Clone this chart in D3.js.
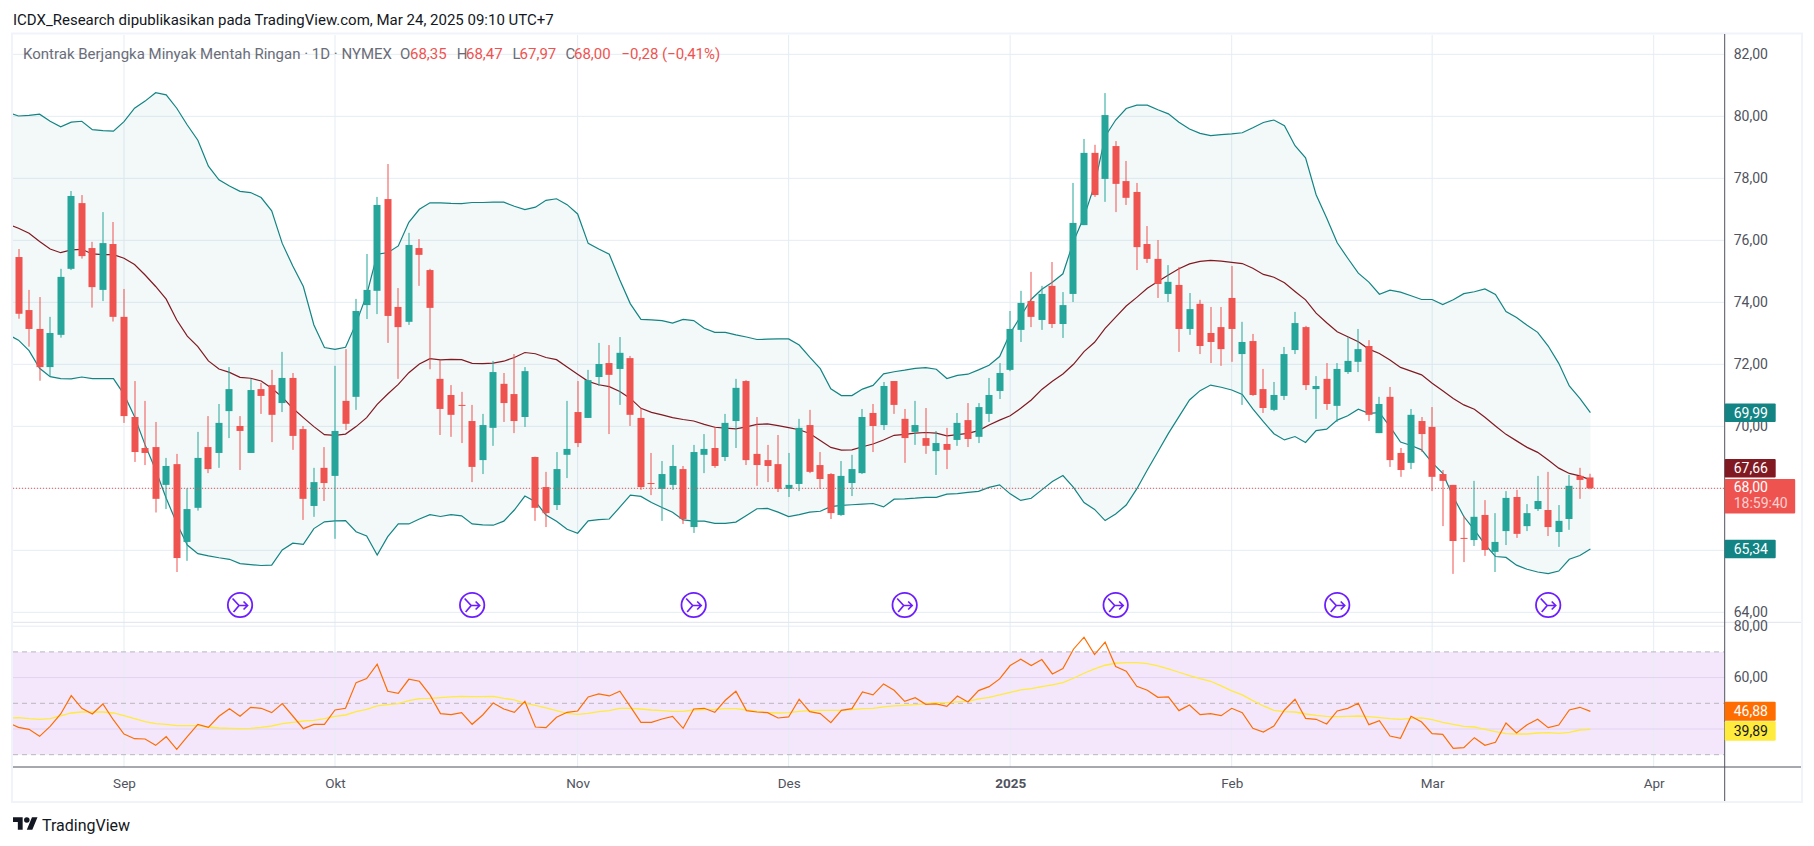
<!DOCTYPE html>
<html><head><meta charset="utf-8">
<script src="https://cdn.jsdelivr.net/npm/d3@7"></script>
<style>html,body{margin:0;padding:0;background:#fff;overflow:hidden}svg{display:block}text{font-family:Roboto,sans-serif}</style>
</head><body><div id="chart"></div>
<script>
const opens=[75.46,73.75,73.14,71.91,72.95,75.08,77.20,75.75,74.40,75.88,73.53,70.30,69.30,69.33,68.11,68.78,66.27,67.37,69.33,69.14,70.49,70.01,69.14,71.20,71.33,70.75,71.56,69.91,67.43,68.66,68.40,70.82,70.95,73.91,74.37,77.33,73.85,73.37,75.75,75.04,71.53,71.01,70.69,70.17,68.91,69.95,71.37,71.04,70.30,69.01,68.04,67.46,69.08,70.46,70.27,71.59,72.04,71.85,72.20,70.27,68.17,67.98,68.11,68.62,66.75,69.08,69.30,69.01,70.17,71.46,69.11,68.91,68.78,67.98,68.14,70.04,68.75,68.46,67.14,68.17,68.49,70.43,70.04,71.46,70.24,69.82,69.62,69.20,69.43,69.56,70.20,69.66,70.40,71.14,71.82,73.11,74.04,73.43,74.53,73.30,74.27,76.49,78.82,77.98,79.04,77.91,77.56,75.88,75.40,74.27,74.56,73.14,73.95,73.01,73.20,74.14,72.33,72.75,71.20,70.53,70.98,72.46,73.20,71.20,71.53,70.66,71.75,72.08,72.59,69.78,70.95,69.14,68.82,70.17,69.98,68.46,68.11,66.40,66.33,67.14,65.95,66.62,67.72,66.78,67.33,67.30,66.59,67.01,68.40,68.35];
const highs=[75.72,74.40,74.17,73.53,75.08,77.59,77.46,75.95,76.91,76.59,74.43,71.46,70.82,70.14,68.98,69.11,68.00,69.82,70.33,70.72,71.91,70.33,71.53,71.40,71.82,72.40,71.72,70.01,68.66,69.33,71.95,72.49,74.11,75.56,77.40,78.46,74.46,76.24,76.04,75.08,72.14,71.33,71.11,70.69,70.40,72.11,71.72,72.33,71.91,69.02,68.53,69.17,70.82,71.46,71.82,72.69,72.62,72.88,72.27,70.58,69.14,68.88,69.40,68.72,69.40,69.75,69.99,70.40,71.53,71.49,70.30,69.40,69.72,69.14,70.24,70.53,69.17,68.49,68.88,69.08,70.56,70.72,71.43,71.46,70.56,70.82,70.59,69.85,69.95,70.43,70.75,70.75,71.56,72.04,73.72,74.37,74.98,74.53,75.30,74.33,77.85,79.27,79.08,80.75,79.20,78.56,77.85,76.46,76.01,75.20,75.14,74.30,74.08,73.85,73.85,75.17,73.37,72.98,71.85,71.43,72.56,73.69,73.24,71.62,72.04,72.04,72.88,73.14,72.78,70.95,71.27,69.30,70.56,70.30,70.62,68.59,68.11,67.11,68.24,67.62,67.20,67.91,67.95,67.49,68.40,68.53,67.46,68.43,68.66,68.47];
const lows=[73.47,72.57,71.47,71.60,72.86,75.04,75.41,73.83,74.04,73.38,70.11,68.85,68.75,67.22,67.33,65.30,65.66,67.28,68.49,68.66,69.62,68.59,69.14,70.40,69.49,70.46,69.24,66.98,67.08,67.59,66.37,69.88,70.53,73.46,73.62,72.69,71.53,73.27,74.53,71.84,69.72,69.66,69.46,68.20,68.46,69.37,70.14,69.78,69.98,66.95,66.75,67.30,68.33,69.33,70.27,71.30,69.75,70.69,70.01,67.95,67.78,66.95,67.95,66.85,66.56,68.49,68.66,68.88,69.30,68.75,68.08,68.20,67.88,67.72,67.91,68.49,67.98,67.01,67.11,67.75,68.46,69.17,69.88,70.40,68.82,69.40,69.11,68.43,68.62,69.37,69.33,69.46,70.14,70.88,71.78,72.72,73.20,73.11,73.17,72.85,74.01,76.49,77.40,77.24,76.91,77.14,75.04,75.27,74.14,74.01,72.40,72.95,72.33,72.04,71.95,72.08,70.69,70.98,70.43,70.49,70.85,72.33,71.17,70.24,70.53,70.14,71.69,71.75,70.17,69.78,68.69,68.37,68.62,69.17,67.91,66.78,65.24,65.62,66.14,65.82,65.30,66.17,66.40,66.62,67.27,66.46,66.11,66.66,67.66,67.97];
const closes=[73.63,73.14,71.91,73.01,74.82,77.43,75.49,74.49,75.91,73.53,70.33,69.17,69.14,67.66,68.72,65.75,67.33,68.98,68.62,70.11,71.20,69.85,71.17,70.98,70.37,71.56,69.69,67.66,68.20,68.17,69.85,70.08,73.72,74.40,77.14,73.56,73.20,75.85,75.53,73.82,70.56,70.37,70.66,68.69,70.04,71.75,70.75,70.17,71.78,67.37,67.20,68.62,69.27,69.46,71.49,72.01,71.66,72.37,70.37,68.04,68.14,68.46,68.72,67.01,69.17,69.27,68.72,70.11,71.24,68.91,68.75,68.72,67.98,68.11,69.95,68.53,68.30,67.20,68.40,68.62,70.30,70.01,71.30,70.69,69.62,70.04,69.37,69.46,69.24,70.11,69.59,70.62,71.01,71.72,73.14,73.98,73.53,74.27,73.30,73.91,76.56,78.82,77.46,80.04,77.82,77.37,75.78,75.40,74.59,74.66,73.14,73.78,72.59,72.72,72.49,73.14,72.72,71.01,70.59,71.01,72.33,73.33,71.33,71.30,70.72,71.85,72.11,72.49,70.37,70.72,68.91,68.59,70.37,69.75,68.37,68.24,66.30,66.37,67.08,66.01,66.27,67.69,66.53,67.20,67.59,66.75,66.95,68.08,68.27,68.00];
// Indicator series start one bar before the first candle (clipped at the pane edge)
const bbUpper=[80.12,80.01,80.03,80.07,79.84,79.66,79.81,79.84,79.57,79.54,79.52,79.83,80.26,80.49,80.76,80.69,80.26,79.72,79.23,78.39,77.95,77.75,77.58,77.54,77.38,76.95,75.90,75.17,74.51,73.27,72.54,72.48,72.55,73.32,74.24,75.55,75.60,75.82,76.58,77.00,77.21,77.21,77.19,77.18,77.22,77.22,77.23,77.23,77.10,76.99,77.07,77.29,77.34,77.15,76.85,75.90,75.72,75.55,74.72,73.95,73.45,73.43,73.41,73.33,73.45,73.41,73.16,73.03,73.03,72.95,72.88,72.80,72.81,72.82,72.82,72.62,72.23,71.86,71.21,70.99,70.99,71.20,71.32,71.69,71.76,71.81,71.87,71.89,71.84,71.54,71.64,71.68,71.82,71.97,72.25,73.00,73.55,74.10,74.42,74.65,74.92,75.96,76.76,77.78,79.35,79.88,80.25,80.36,80.36,80.21,80.08,79.81,79.59,79.45,79.38,79.41,79.43,79.47,79.63,79.80,79.88,79.70,79.05,78.66,77.47,76.72,75.92,75.42,74.94,74.65,74.26,74.39,74.33,74.21,74.09,74.09,73.93,74.08,74.28,74.34,74.43,74.25,73.70,73.51,73.26,73.03,72.59,72.03,71.30,70.90,70.44];
const bbMiddle=[76.52,76.39,76.23,75.96,75.72,75.60,75.69,75.71,75.56,75.54,75.54,75.42,75.22,74.88,74.51,74.10,73.43,72.91,72.57,72.11,71.85,71.74,71.58,71.55,71.46,71.23,70.94,70.58,70.28,69.99,69.73,69.71,69.75,69.99,70.28,70.71,71.04,71.35,71.73,72.01,72.18,72.14,72.16,72.15,72.03,72.02,72.04,72.10,72.22,72.38,72.34,72.22,72.15,71.91,71.68,71.45,71.34,71.28,71.12,70.90,70.58,70.45,70.37,70.28,70.22,70.17,70.06,69.97,69.94,69.92,69.98,70.06,70.08,70.02,69.96,69.89,69.77,69.54,69.32,69.23,69.24,69.34,69.43,69.56,69.71,69.74,69.78,69.80,69.78,69.69,69.73,69.77,69.86,70.04,70.20,70.34,70.58,70.85,71.19,71.45,71.69,72.00,72.41,72.71,73.16,73.52,73.88,74.16,74.45,74.67,74.88,75.08,75.24,75.32,75.35,75.33,75.29,75.25,75.10,74.90,74.81,74.63,74.35,74.08,73.65,73.34,73.05,72.89,72.73,72.49,72.35,72.14,71.90,71.78,71.66,71.39,71.15,70.90,70.69,70.55,70.29,70.01,69.74,69.53,69.32,69.16,68.91,68.65,68.48,68.40,68.27];
const bbLower=[72.96,72.78,72.44,71.87,71.60,71.54,71.53,71.59,71.54,71.54,71.54,71.03,70.31,69.40,68.59,67.68,66.87,66.17,65.89,65.82,65.76,65.71,65.57,65.54,65.51,65.52,66.01,66.23,66.19,66.70,66.92,66.95,66.96,66.60,66.46,65.85,66.44,66.85,66.85,67.01,67.15,67.09,67.15,67.11,66.85,66.82,66.81,66.94,67.30,67.75,67.57,67.14,66.94,66.68,66.55,66.95,66.99,67.01,67.39,67.78,67.74,67.54,67.38,67.23,66.98,66.94,66.94,66.87,66.87,66.91,67.12,67.34,67.35,67.23,67.09,67.15,67.23,67.26,67.41,67.45,67.47,67.49,67.51,67.40,67.65,67.66,67.68,67.71,67.71,67.81,67.83,67.87,67.90,68.03,68.11,67.82,67.61,67.68,67.95,68.22,68.41,68.03,67.54,67.32,66.96,67.17,67.46,67.98,68.59,69.18,69.77,70.31,70.85,71.15,71.33,71.26,71.17,71.03,70.56,70.15,69.76,69.56,69.67,69.48,69.86,69.91,70.20,70.34,70.55,70.42,70.44,69.99,69.49,69.38,69.24,68.83,68.48,67.73,67.09,66.66,66.19,65.80,65.77,65.52,65.39,65.30,65.25,65.33,65.71,65.83,66.04];
const rsiValues=[42.47,40.65,39.87,37.14,41.04,45.84,52.99,48.05,45.84,49.74,43.51,38.05,36.23,36.10,33.64,37.01,32.08,37.01,41.82,40.65,44.94,47.92,44.94,48.44,48.05,46.36,49.87,45.06,40.13,41.82,41.82,47.40,48.05,58.05,59.61,65.19,54.68,53.90,59.35,58.57,53.25,45.97,45.58,46.36,41.82,45.45,50.13,47.79,46.49,50.78,40.78,40.52,44.55,46.49,47.01,52.47,53.64,52.86,54.68,48.70,42.60,42.60,43.90,44.94,40.26,47.79,48.05,46.49,51.17,54.68,47.14,46.62,46.36,44.29,44.68,51.56,46.75,45.97,42.47,47.27,47.92,54.42,53.25,57.53,55.06,50.78,52.21,49.61,49.74,48.83,52.86,50.52,54.94,56.49,59.48,64.68,67.14,64.68,67.01,61.43,63.51,71.04,75.71,68.96,73.77,64.29,62.47,56.62,55.06,52.34,52.47,47.14,49.35,45.58,45.97,45.19,48.05,46.36,40.26,38.83,41.17,47.40,51.56,44.16,43.77,41.95,47.01,48.05,50.00,41.69,43.25,37.27,36.36,44.94,42.73,38.18,37.92,32.47,32.73,36.62,33.64,34.81,42.34,38.44,41.69,43.77,40.52,41.56,47.40,48.44,46.88];
const rsiMA=[44.29,44.42,44.03,43.77,44.03,45.06,46.23,46.62,46.62,46.62,46.23,45.19,44.03,42.86,42.08,41.82,41.30,41.30,41.30,40.78,40.39,40.26,40.13,40.26,40.65,41.17,42.08,42.60,43.12,43.38,44.03,44.94,45.45,46.75,47.66,48.96,49.48,49.87,51.04,51.82,51.95,52.21,52.47,52.73,52.60,52.60,52.73,51.95,51.30,50.00,49.22,48.18,47.14,46.10,45.71,46.10,46.75,47.14,48.05,48.05,47.79,47.40,47.14,46.88,46.88,47.40,47.53,47.66,47.92,47.92,47.40,46.88,46.49,46.23,46.36,46.88,47.14,47.27,47.27,47.27,47.53,47.92,48.05,48.57,48.96,49.22,49.48,49.87,50.26,50.26,50.52,50.78,51.69,52.34,53.25,54.29,55.19,55.71,56.49,57.14,58.05,59.74,61.69,63.38,64.81,65.58,65.84,65.84,65.45,64.55,63.38,62.08,60.78,59.61,58.57,56.75,54.81,53.25,51.04,48.96,47.27,46.75,46.62,45.84,45.32,44.94,44.81,44.94,45.06,44.81,44.42,44.03,43.77,44.16,44.29,43.64,42.60,41.82,41.04,40.78,39.87,38.96,38.18,38.05,38.05,38.44,38.57,38.31,38.70,39.61,39.89];
const priceTicks=[64,66,68,70,72,74,76,78,80,82];
const rsiTicks=[40,60,80];
const rsiBands=[30,50,70];
const monthIndex=[10,30,53,73,94,115,134,155];
const monthLabels=["Sep","Okt","Nov","Des","2025","Feb","Mar","Apr"];
const eventIndex=[21,43,64,84,104,125,145];
const legendParts=[["Kontrak Berjangka Minyak Mentah Ringan · 1D · NYMEX",23,"#6a6d78"],["O",400,"#6a6d78"],["68,35",410,"#ef5350"],["H",456.7,"#6a6d78"],["68,47",466,"#ef5350"],["L",512.5,"#6a6d78"],["67,97",519.6,"#ef5350"],["C",565.4,"#6a6d78"],["68,00",574,"#ef5350"],["−0,28 (−0,41%)",621.5,"#ef5350"]];

const W=1814,H=846,L=13,PR=1724.7,FR=1801,T=35,SEP=622.3,AX=767,FB=801;
const svg=d3.select("#chart").append("svg").attr("width",W).attr("height",H);
const comma=d=>d3.format(".2f")(d).replace(".",",");
const x=d3.scaleLinear().domain([0,149]).range([18.5,1590.4]);
const y=d3.scaleLinear().domain([64,82]).range([612.3,54.3]);
const r=d3.scaleLinear().domain([30,70]).range([754.7,651.9]);
const ix=i=>x(i-1); // indicator series index -> x

const defs=svg.append("defs");
defs.append("clipPath").attr("id","cp").append("rect").attr("x",L).attr("y",T).attr("width",PR-L).attr("height",SEP-T);
defs.append("clipPath").attr("id","cr").append("rect").attr("x",L).attr("y",SEP).attr("width",PR-L).attr("height",AX-SEP);

// frame
svg.append("rect").attr("x",L-1).attr("y",T-1.5).attr("width",FR-L+2).attr("height",FB-T+2.5).attr("fill","#fff").attr("stroke","#f0f3fa").attr("stroke-width",2);
// title
svg.append("text").attr("x",13).attr("y",20).attr("dy","0.35em").attr("font-size",15).attr("fill","#131722").text("ICDX_Research dipublikasikan pada TradingView.com, Mar 24, 2025 09:10 UTC+7");

// price pane
const pane=svg.append("g").attr("clip-path","url(#cp)");
const rp=svg.append("g").attr("clip-path","url(#cr)");
// RSI background
rp.append("rect").attr("x",L).attr("width",PR-L).attr("y",r(70)).attr("height",r(30)-r(70)).attr("fill","#f4e7fc");
// grid
pane.selectAll(".gh").data(priceTicks).join("line").attr("x1",L).attr("x2",PR).attr("y1",d=>y(d)).attr("y2",d=>y(d)).attr("stroke","#e4edf3").attr("stroke-width",1);
[pane,rp].forEach(g=>g.selectAll(".gv").data(monthIndex).join("line").attr("x1",d=>x(d)).attr("x2",d=>x(d)).attr("y1",T).attr("y2",AX).attr("stroke","#e4edf3").attr("stroke-width",1).attr("opacity",0.95));
rp.selectAll(".gr").data(rsiTicks).join("line").attr("x1",L).attr("x2",PR).attr("y1",d=>r(d)).attr("y2",d=>r(d)).attr("stroke",d=>d==80?"#e4edf3":"#e2d3ee").attr("stroke-width",1);
rp.selectAll(".gb").data(rsiBands).join("line").attr("x1",L).attr("x2",PR).attr("y1",d=>r(d)).attr("y2",d=>r(d)).attr("stroke","#b9b4bf").attr("stroke-width",1).attr("stroke-dasharray","5,4");
// Bollinger
const area=d3.area().x((d,i)=>ix(i)).y0((d,i)=>y(bbLower[i])).y1(d=>y(d));
pane.append("path").attr("d",area(bbUpper)).attr("fill","#138484").attr("opacity",0.05);
const line=d3.line().x((d,i)=>ix(i)).y(d=>y(d));
pane.append("path").attr("d",line(bbUpper)).attr("fill","none").attr("stroke","#138484").attr("stroke-width",1.2);
pane.append("path").attr("d",line(bbLower)).attr("fill","none").attr("stroke","#138484").attr("stroke-width",1.2);
pane.append("path").attr("d",line(bbMiddle)).attr("fill","none").attr("stroke","#801922").attr("stroke-width",1.2);
// candles
const up="#26a69a",dn="#ef5350",col=i=>closes[i]>=opens[i]?up:dn;
const idx=d3.range(opens.length);
pane.selectAll(".w").data(idx).join("rect").attr("x",i=>Math.round(x(i))-0.5).attr("width",1).attr("y",i=>y(highs[i])).attr("height",i=>y(lows[i])-y(highs[i])).attr("fill",col);
pane.selectAll(".b").data(idx).join("rect").attr("x",i=>Math.round(x(i))-3.5).attr("width",7).attr("y",i=>y(Math.max(opens[i],closes[i]))).attr("height",i=>Math.max(1,Math.abs(y(opens[i])-y(closes[i])))).attr("fill",col);
// last price line
pane.append("line").attr("x1",L).attr("x2",PR).attr("y1",y(closes[149])).attr("y2",y(closes[149])).attr("stroke",dn).attr("stroke-width",1).attr("stroke-dasharray","1,2");
// events
const ev=pane.selectAll(".e").data(eventIndex).join("g").attr("transform",d=>`translate(${x(d)},605)`);
ev.append("circle").attr("r",12.2).attr("fill","#fff").attr("stroke","#6d1eff").attr("stroke-width",1.8);
ev.append("path").attr("d","M-7.5,-6.5 L-1,0.5 L-6.5,7 M-1,0.5 H7.5 M3.5,-3.5 L7.5,0.5 L3.5,4.5").attr("fill","none").attr("stroke","#6d1eff").attr("stroke-width",1.7);
// RSI lines
const rl=d3.line().x((d,i)=>ix(i)).y(d=>r(d));
rp.append("path").attr("d",rl(rsiMA)).attr("fill","none").attr("stroke","#ffeb3b").attr("stroke-width",1.3);
rp.append("path").attr("d",rl(rsiValues)).attr("fill","none").attr("stroke","#ff6d00").attr("stroke-width",1.2);
// separators
svg.append("line").attr("x1",L).attr("x2",FR).attr("y1",SEP).attr("y2",SEP).attr("stroke","#e0e3eb").attr("stroke-width",1);
svg.append("line").attr("x1",L).attr("x2",FR).attr("y1",AX).attr("y2",AX).attr("stroke","#50535e").attr("stroke-width",1);
svg.append("line").attr("x1",PR).attr("x2",PR).attr("y1",T-1).attr("y2",FB).attr("stroke","#50535e").attr("stroke-width",1);
// axes
const styleAxis=g=>{g.select(".domain").remove();g.selectAll(".tick line").remove();g.selectAll("text").attr("font-size",14).attr("fill","#50535e").attr("dy","0.28em");};
svg.append("g").attr("transform",`translate(${PR},0)`).call(d3.axisRight(y).tickValues(priceTicks).tickFormat(comma).tickSize(0).tickPadding(9)).call(styleAxis);
svg.append("g").attr("transform",`translate(${PR},0)`).call(d3.axisRight(r).tickValues(rsiTicks).tickFormat(comma).tickSize(0).tickPadding(9)).call(styleAxis);
const xa=svg.append("g").attr("transform",`translate(0,${AX+9})`).call(d3.axisBottom(x).tickValues(monthIndex).tickFormat((d,i)=>monthLabels[i]).tickSize(0).tickPadding(2));
xa.select(".domain").remove();xa.selectAll("text").attr("font-size",13.5).attr("fill","#50535e");
xa.selectAll("text").filter(d=>d==94).attr("font-weight",700);
// legend
svg.append("g").selectAll("text").data(legendParts).join("text").attr("x",d=>d[1]).attr("y",53.5).attr("dy","0.35em").attr("font-size",15).attr("fill",d=>d[2]).text(d=>d[0]);
// axis price labels
const tagW=51;
function tag(yc,h,w,fill,txt,tc){
  svg.append("rect").attr("x",PR).attr("y",yc-h/2).attr("width",w).attr("height",h).attr("rx",1).attr("fill",fill);
  svg.append("text").attr("x",PR+9).attr("y",yc).attr("dy","0.35em").attr("font-size",14).attr("fill",tc).text(txt);
}
tag(y(bbUpper[150]),18.5,tagW,"#138484",comma(69.99),"#fff");
tag(468.3,18.5,tagW,"#801922",comma(67.66),"#fff");
tag(y(bbLower[150]),18.5,tagW,"#138484",comma(65.34),"#fff");
svg.append("rect").attr("x",PR).attr("y",479).attr("width",70.5).attr("height",34.5).attr("rx",1).attr("fill",dn);
svg.append("text").attr("x",PR+9).attr("y",487.5).attr("dy","0.35em").attr("font-size",14).attr("fill","#fff").text(comma(closes[149]));
svg.append("text").attr("x",PR+9).attr("y",503.5).attr("dy","0.35em").attr("font-size",14).attr("fill","#fbd0cf").text("18:59:40");
tag(711.3,19,tagW,"#ff6d00",comma(rsiValues[150]),"#fff");
tag(731,19.5,tagW,"#ffeb3b",comma(rsiMA[150]),"#131722");
// logo
const logo=svg.append("g").attr("transform","translate(13,814.5) scale(0.69)").attr("fill","#131722");
logo.append("path").attr("d","M14 22H7V11H0V4h14v18zM28 22h-8l7.5-18h8L28 22z");
logo.append("circle").attr("cx",20).attr("cy",8).attr("r",4);
svg.append("text").attr("x",42).attr("y",825).attr("dy","0.35em").attr("font-size",16).attr("fill","#131722").text("TradingView");
</script></body></html>
